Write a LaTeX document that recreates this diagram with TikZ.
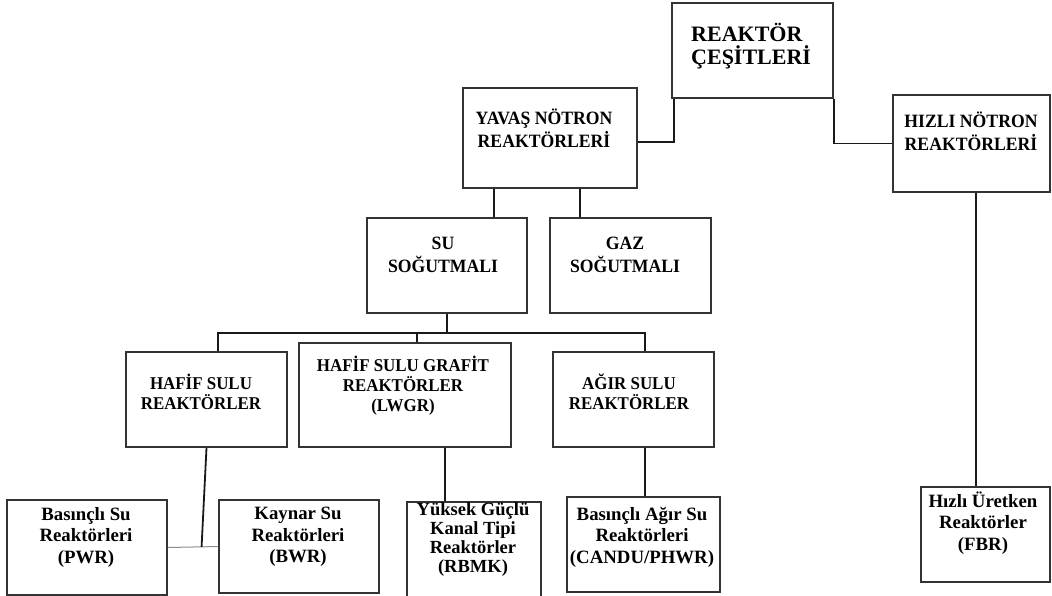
\documentclass[tikz,border=0pt]{standalone}
\usepackage{fontspec}
\setmainfont{Liberation Serif}
\newfontfamily\condfont[FakeStretch=0.94]{Liberation Serif}
\usetikzlibrary{calc}
\tikzset{
  box/.style={draw=black!80, line width=1.5pt, inner sep=0pt, fill=none},
  lbl/.style={inner sep=0pt, align=center, text=black, font=\condfont\bfseries\fontsize{18.8}{23}\selectfont},
  lblmid/.style={lbl, font=\condfont\bfseries\fontsize{18}{20}\selectfont},
  lblsm/.style={lbl, font=\bfseries\fontsize{18.8}{21.5}\selectfont},
  conn/.style={draw=black!90, line width=1.8pt},
  thinconn/.style={draw=black!45, line width=1pt}
}
\begin{document}
\begin{tikzpicture}[x=1pt,y=-1pt]
\useasboundingbox (0,0) rectangle (1052,596);
\clip (0,0) rectangle (1052,596);
\fill[white] (0,0) rectangle (1052,596);
% boxes
\node[box, minimum width=161pt, minimum height=95pt] (reak) at (752.5,50.5) {};
\node[box, minimum width=174pt, minimum height=100pt] (yavas) at (550,138) {};
\node[box, minimum width=157pt, minimum height=97pt] (hizli) at (971.5,143.5) {};
\node[box, minimum width=160pt, minimum height=95pt] (su) at (447,265.5) {};
\node[box, minimum width=161pt, minimum height=95pt] (gaz) at (630.5,265.5) {};
\node[box, minimum width=161pt, minimum height=95pt] (hafif) at (206.5,399.5) {};
\node[box, minimum width=212pt, minimum height=104pt] (grafit) at (405,395) {};
\node[box, minimum width=161pt, minimum height=95pt] (agir) at (633.5,399.5) {};
\node[box, minimum width=160pt, minimum height=95pt] (pwr) at (87,547.5) {};
\node[box, minimum width=160pt, minimum height=93pt] (bwr) at (299,546.5) {};
\node[box, minimum width=134pt, minimum height=96pt] (rbmk) at (474,550) {};
\node[box, minimum width=153pt, minimum height=95pt] (candu) at (643.5,544.5) {};
\node[box, minimum width=129pt, minimum height=95pt] (fbr) at (985.5,534.5) {};
% labels
\node[lbl, anchor=west, align=left, font=\bfseries\fontsize{22}{23}\selectfont] (treak) at (691,46) {REAKTÖR\\ÇEŞİTLERİ};
\node[lbl] (tyavas) at (544,128.5) {YAVAŞ NÖTRON\\REAKTÖRLERİ};
\node[lbl] (thizli) at (971,131) {HIZLI NÖTRON\\REAKTÖRLERİ};
\node[lbl] (tsu) at (443,254.5) {SU\\SOĞUTMALI};
\node[lbl] (tgaz) at (625,254.5) {GAZ\\SOĞUTMALI};
\node[lblmid] (thafif) at (201,391.5) {HAFİF SULU\\REAKTÖRLER};
\node[lblmid] (tgrafit) at (403,386) {HAFİF SULU GRAFİT\\REAKTÖRLER\\(LWGR)};
\node[lblmid] (tagir) at (629,391.5) {AĞIR SULU\\REAKTÖRLER};
\node[lblsm] (tpwr) at (86,537) {Basınçlı Su\\Reaktörleri\\(PWR)};
\node[lblsm] (tbwr) at (298,537) {Kaynar Su\\Reaktörleri\\(BWR)};
\node[lblsm, font=\bfseries\fontsize{18.5}{19}\selectfont] (trbmk) at (473,540) {Yüksek Güçlü\\Kanal Tipi\\Reaktörler\\(RBMK)};
\node[lblsm] (tcandu) at (642,537) {Basınçlı Ağır Su\\Reaktörleri\\(CANDU/PHWR)};
\node[lblsm] (tfbr) at (983,523) {Hızlı Üretken\\Reaktörler\\(FBR)};
% connectors
\coordinate (rl) at ([xshift=3pt]reak.south west);
\coordinate (ye) at ([yshift=-4pt]yavas.east);
\draw[conn] (rl) |- (ye);
\draw[conn] (reak.south east) |- (hizli.west);
\draw[conn] ([xshift=32pt]yavas.south west) -- ([xshift=128pt]su.north west);
\draw[conn] ([xshift=118pt]yavas.south west) -- ([xshift=31pt]gaz.north west);
\draw[conn] (su.south) -- ++(0,19) coordinate (bus);
\coordinate (hafT) at ([xshift=93pt]hafif.north west);
\coordinate (grafT) at ([xshift=119pt]grafit.north west);
\coordinate (agirT) at ([xshift=93pt]agir.north west);
\draw[conn] (hafT) -- (hafT |- bus) -- (agirT |- bus) -- (agirT);
\draw[conn] (grafT |- bus) -- (grafT);
\coordinate (hj) at ($(pwr.east)!0.67!(bwr.west)$);
\draw[thinconn] (pwr.east) -- (bwr.west);
\draw[conn] (hafif.south) -- (hj);
\draw[conn] ([xshift=147pt]grafit.south west) -- ([xshift=39pt]rbmk.north west);
\draw[conn] ([xshift=93pt]agir.south west) -- ([xshift=79pt]candu.north west);
\draw[conn] ([xshift=84pt]hizli.south west) -- ([xshift=56pt]fbr.north west);
\end{tikzpicture}
\end{document}
